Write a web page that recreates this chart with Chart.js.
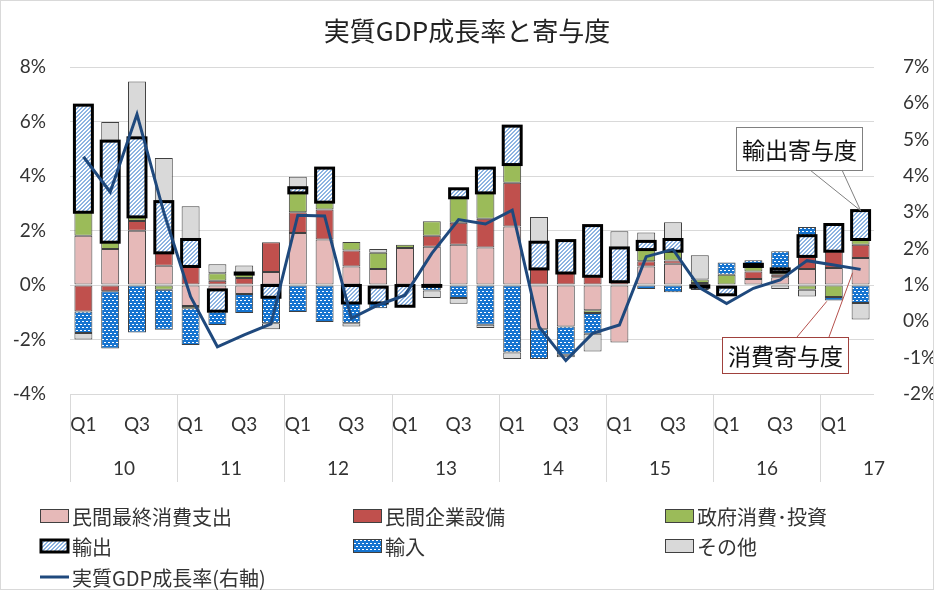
<!DOCTYPE html>
<html lang="ja">
<head>
<meta charset="utf-8">
<title>実質GDP成長率と寄与度</title>
<script src="https://cdn.jsdelivr.net/npm/chart.js@4.4.1/dist/chart.umd.min.js"></script>
<style>
  html, body { margin: 0; padding: 0; background: #fff; }
  #wrap { width: 934px; height: 590px; }
</style>
</head>
<body>
<div id="wrap"><canvas id="gdpChart" width="934" height="590"></canvas></div>
<script>
const categories = ['10Q1','10Q2','10Q3','10Q4','11Q1','11Q2','11Q3','11Q4',
                    '12Q1','12Q2','12Q3','12Q4','13Q1','13Q2','13Q3','13Q4',
                    '14Q1','14Q2','14Q3','14Q4','15Q1','15Q2','15Q3','15Q4',
                    '16Q1','16Q2','16Q3','16Q4','17Q1','17Q2'];
const quarterLabels = ['Q1', 'Q2', 'Q3', 'Q4'];
const years = ['10', '11', '12', '13', '14', '15', '16', '17'];

const consumption = [1.81, 1.32, 1.99, 0.71, -0.77, -0.18, -0.33, 0.48, 1.91, 1.67, 0.68, 0.59, 1.36, 1.40, 1.48, 1.38,
                     2.15, -1.62, -1.52, -0.93, -2.11, 0.68, 0.78, -0.03, -0.08, 0.22, 0.28, 0.59, 0.62, 0.99];
const investment  = [-0.97, -0.23, 0.36, 0.47, 0.68, 0.16, 0.26, 1.09, 0.76, 1.10, 0.59, -0.08, -0.02, 0.41, 0.80, 1.05,
                     1.60, 0.59, 0.44, 0.32, 0.12, 0.19, 0.12, 0.07, 0, 0.28, 0.10, 0.46, 0.62, 0.49];
const government  = [0.86, 0.25, 0.15, -0.17, -0.08, 0.27, 0.14, 0, 0.71, 0.27, 0.31, 0.59, 0.12, 0.53, 0.92, 0.95,
                     0.67, 0, 0, -0.10, 0, 0.43, 0.34, 0.13, 0.38, 0.18, 0.09, -0.17, -0.44, 0.19];
const exportsC    = [3.93, 3.71, 2.90, 1.88, 0.99, -0.78, 0.04, -0.45, 0.19, 1.25, -0.66, -0.58, -0.76, -0.05, 0.33, 0.91,
                     1.41, 0.98, 1.19, 1.86, 1.24, 0.30, 0.43, -0.05, -0.28, 0.08, 0.12, 0.76, 0.98, 1.06];
const importsC    = [-0.79, -2.10, -1.74, -1.47, -1.35, -0.51, -0.70, -0.95, -0.99, -1.36, -0.74, -0.19, 0, -0.15, -0.48, -1.46,
                     -2.48, -1.10, -1.04, -0.76, 0, -0.15, -0.27, -0.10, 0.45, 0.15, 0.65, 0.32, -0.13, -0.66];
const others      = [-0.24, 0.70, 2.07, 1.60, 1.22, 0.33, 0.28, -0.22, 0.40, 0, -0.12, 0.14, 0, -0.28, -0.21, -0.12,
                     -0.24, 0.93, -0.09, -0.65, 0.61, 0.33, 0.63, 0.89, 0, 0, -0.15, -0.25, 0, -0.61];
const gdpGrowth   = [4.53, 3.56, 5.70, 3.00, 0.68, -0.70, -0.37, -0.07, 2.92, 2.90, 0.08, 0.45, 0.72, 1.87, 2.80, 2.68,
                     3.06, -0.15, -1.08, -0.33, -0.10, 1.78, 1.98, 0.92, 0.49, 0.91, 1.14, 1.67, 1.55, 1.43];

const seriesNames = ['民間最終消費支出', '民間企業設備', '政府消費･投資', '輸出', '輸入', 'その他', '実質GDP成長率(右軸)'];

// fill patterns
function makeTile(w, h, fn) {
  const c = document.createElement('canvas');
  c.width = w; c.height = h;
  const g = c.getContext('2d');
  const img = g.createImageData(w, h);
  for (let y = 0; y < h; y++) {
    for (let x = 0; x < w; x++) {
      const col = fn(x, y);
      const k = (y * w + x) * 4;
      img.data[k] = col[0]; img.data[k + 1] = col[1]; img.data[k + 2] = col[2]; img.data[k + 3] = 255;
    }
  }
  g.putImageData(img, 0, 0);
  return g.createPattern(c, 'repeat');
}
const hatchFill = makeTile(4, 4, (x, y) => ((x + y) % 4 < 2) ? [141, 180, 226] : [255, 255, 255]);
const dotFill = makeTile(4, 6, (x, y) => {
  const white = (y === 0 && x < 2) || (y === 3 && x >= 2);
  return white ? [255, 255, 255] : [22, 116, 208];
});

const fills = ['#E6B9B8', '#C0504D', '#9BBB59', hatchFill, dotFill, '#D9D9D9'];
const barData = [consumption, investment, government, exportsC, importsC, others];

function barSet(i) {
  return {
    type: 'bar',
    label: seriesNames[i],
    data: barData[i],
    backgroundColor: fills[i],
    borderColor: '#404040',
    borderWidth: i === 3 ? 0 : 1,
    borderSkipped: false,
    barPercentage: 0.67,
    categoryPercentage: 1,
    stack: 'c',
    order: 1
  };
}

const extras = {
  id: 'extras',
  beforeDatasetDraw(chart, args) {
    if (args.index !== 6) return;
    // thick outline of the export boxes, like Excel
    const ctx = chart.ctx;
    ctx.save();
    ctx.strokeStyle = '#000';
    ctx.lineWidth = 3;
    chart.getDatasetMeta(3).data.forEach((bar, i) => {
      if (!exportsC[i]) return;
      const p = bar.getProps(['x', 'y', 'base', 'width'], true);
      const top = Math.min(p.y, p.base);
      ctx.strokeRect(p.x - p.width / 2, top, p.width, Math.abs(p.base - p.y));
    });
    ctx.restore();
  },
  afterDraw(chart) {
    const ctx = chart.ctx;
    const xs = chart.scales.x, ys = chart.scales.y;
    const area = chart.chartArea;
    const step = xs.getPixelForValue(1) - xs.getPixelForValue(0);
    ctx.save();

    // outer frame
    ctx.strokeStyle = '#D9D9D9';
    ctx.lineWidth = 1;
    ctx.strokeRect(0.5, 0.5, chart.width - 1, chart.height - 1);

    // title
    ctx.fillStyle = '#222';
    ctx.textAlign = 'center';
    ctx.textBaseline = 'middle';
    ctx.font = '26px "Noto Sans CJK JP"';
    ctx.fillText('実質GDP成長率と寄与度', chart.width / 2, 31);

    // category axis: quarters, years, separators
    ctx.fillStyle = '#333';
    ctx.font = '19px Lato';
    categories.forEach((c, i) => {
      if (i % 2 === 0) ctx.fillText(quarterLabels[i % 4], xs.getPixelForValue(i), 425);
    });
    ctx.strokeStyle = '#D9D9D9';
    years.forEach((yr, g) => {
      const left = Math.round(xs.getPixelForValue(g * 4) - step / 2) + 0.5;
      ctx.beginPath();
      ctx.moveTo(left, area.bottom);
      ctx.lineTo(left, 482);
      ctx.stroke();
      ctx.fillText(yr, left + 2 * step, 469);
    });

    // legend
    const cols = [40, 353, 665];
    const rows = [516, 546, 577];
    ctx.textAlign = 'left';
    ctx.font = '20px "Noto Sans CJK JP"';
    for (let i = 0; i < 6; i++) {
      const bx = cols[i % 3], by = rows[Math.floor(i / 3)];
      ctx.fillStyle = fills[i];
      ctx.fillRect(bx, by - 7, 29, 14);
      if (i === 3) {
        ctx.strokeStyle = '#000'; ctx.lineWidth = 3;
        ctx.strokeRect(bx + 1, by - 6, 27, 12);
      } else {
        ctx.strokeStyle = '#404040'; ctx.lineWidth = 1;
        ctx.strokeRect(bx + 0.5, by - 6.5, 28, 13);
      }
      ctx.fillStyle = '#333';
      ctx.fillText(seriesNames[i], bx + 32, by + 1);
    }
    ctx.strokeStyle = '#1F497D';
    ctx.lineWidth = 3;
    ctx.beginPath();
    ctx.moveTo(cols[0], rows[2]);
    ctx.lineTo(cols[0] + 29, rows[2]);
    ctx.stroke();
    ctx.fillStyle = '#333';
    ctx.fillText(seriesNames[6], cols[0] + 32, rows[2] + 1);

    // callout: exports
    const last = categories.length - 1;
    const expTop = chart.getDatasetMeta(3).data[last].getProps(['y'], true).y;
    const xLast = xs.getPixelForValue(last);
    ctx.strokeStyle = '#808080';
    ctx.lineWidth = 1;
    ctx.beginPath();
    ctx.moveTo(810, 170); ctx.lineTo(xLast, expTop);
    ctx.moveTo(842, 170); ctx.lineTo(xLast, expTop);
    ctx.stroke();
    ctx.fillStyle = '#fff';
    ctx.fillRect(736.5, 127.5, 126, 43);
    ctx.strokeRect(736.5, 127.5, 126, 43);
    ctx.fillStyle = '#111';
    ctx.textAlign = 'center';
    ctx.font = '23px "Noto Sans CJK JP"';
    ctx.fillText('輸出寄与度', 799.5, 150);

    // callout: consumption
    ctx.strokeStyle = '#B5504C';
    ctx.beginPath();
    ctx.moveTo(797, 337); ctx.lineTo(xs.getPixelForValue(last - 1) - 7, ys.getPixelForValue(-0.6));
    ctx.moveTo(829, 337); ctx.lineTo(xLast - 8, ys.getPixelForValue(0.45));
    ctx.stroke();
    ctx.fillStyle = '#fff';
    ctx.fillRect(722.5, 337.5, 126, 36);
    ctx.strokeStyle = '#A0413D';
    ctx.strokeRect(722.5, 337.5, 126, 36);
    ctx.fillStyle = '#111';
    ctx.fillText('消費寄与度', 785.5, 356);

    ctx.restore();
  }
};

const tickFont = { family: 'Lato', size: 19 };

new Chart(document.getElementById('gdpChart'), {
  data: {
    labels: categories,
    datasets: [
      barSet(0), barSet(1), barSet(2), barSet(3), barSet(4), barSet(5),
      {
        type: 'line',
        label: seriesNames[6],
        data: gdpGrowth,
        yAxisID: 'y2',
        borderColor: '#1F497D',
        borderWidth: 3,
        pointRadius: 0,
        tension: 0,
        fill: false,
        order: 0
      }
    ]
  },
  options: {
    responsive: false,
    animation: false,
    layout: { padding: { top: 67, left: 0, right: 0, bottom: 0 } },
    plugins: { legend: { display: false }, tooltip: { enabled: false } },
    scales: {
      x: {
        stacked: true,
        grid: { display: false },
        border: { display: false },
        ticks: { display: false },
        afterFit(s) { s.height = 196; }
      },
      y: {
        stacked: true,
        min: -4, max: 8,
        ticks: { stepSize: 2, callback: v => v + '%', padding: 24, font: tickFont, color: '#333' },
        grid: { color: '#D9D9D9', drawTicks: false },
        border: { display: false },
        afterFit(s) { s.width = 70; }
      },
      y2: {
        position: 'right',
        min: -2, max: 7,
        ticks: { stepSize: 1, callback: v => v + '%', padding: 21, font: tickFont, color: '#333' },
        grid: { display: false },
        border: { display: false },
        afterFit(s) { s.width = 60; }
      }
    }
  },
  plugins: [extras]
});
</script>
</body>
</html>
